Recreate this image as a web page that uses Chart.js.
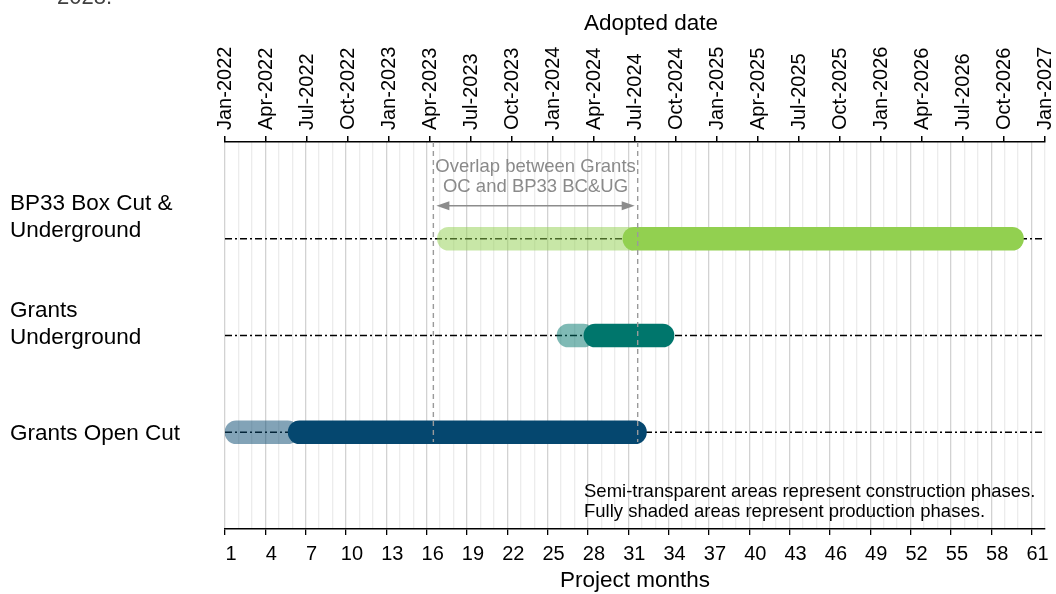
<!DOCTYPE html>
<html>
<head>
<meta charset="utf-8">
<script src="https://cdn.jsdelivr.net/npm/chart.js@4"></script>
<style>
  body { margin: 0; background: #fff; overflow: hidden; }
  #wrap { position: relative; width: 1056px; height: 594px; }
  #cut { position: absolute; left: 57px; top: -16px; font: 22px 'Liberation Sans', Arial, sans-serif; color: #404040; }
</style>
</head>
<body>
<div id="wrap">
  <div id="cut">2028.</div>
  <canvas id="gantt" width="1056" height="594"></canvas>
</div>
<script>
// project rows (top to bottom)
var rowNames = [['BP33 Box Cut &', 'Underground'], ['Grants', 'Underground'], ['Grants Open Cut']];
var rowPos = [1, 2, 3];

// phases in project months
var constructionStart = [16.8, 25.7, 1.0];
var constructionEnd = [32.0, 28.5, 6.5];
var productionStart = [30.6, 27.7, 5.7];
var productionEnd = [60.4, 34.4, 32.35];

// overlap window (project months)
var overlapMonths = [16.5, 31.7];

// axis ticks
var monthTicks = [1, 4, 7, 10, 13, 16, 19, 22, 25, 28, 31, 34, 37, 40, 43, 46, 49, 52, 55, 58, 61];
var dateLabels = ['Jan-2022', 'Apr-2022', 'Jul-2022', 'Oct-2022', 'Jan-2023', 'Apr-2023', 'Jul-2023',
  'Oct-2023', 'Jan-2024', 'Apr-2024', 'Jul-2024', 'Oct-2024', 'Jan-2025', 'Apr-2025', 'Jul-2025',
  'Oct-2025', 'Jan-2026', 'Apr-2026', 'Jul-2026', 'Oct-2026', 'Jan-2027'];

var prodColors = ['#92d050', '#00766c', '#05476f'];
var consColors = ['rgba(146,208,80,0.5)', 'rgba(0,118,108,0.5)', 'rgba(5,71,111,0.5)'];

var FONT = "'Liberation Sans', Arial, sans-serif";
Chart.defaults.font.family = FONT;
Chart.defaults.font.size = 20;
Chart.defaults.color = '#000';

var datasets = [];

// production bars (on top)
datasets.push({
    type: 'bar',
    indexAxis: 'y',
    data: rowPos.map(function (r, i) { return {y: r, x: [productionStart[i], productionEnd[i]]}; }),
    backgroundColor: prodColors,
    barThickness: 23,
    grouped: false,
    borderSkipped: false,
    borderRadius: 20,
    order: 1
});
// construction bars
datasets.push({
    type: 'bar',
    indexAxis: 'y',
    data: rowPos.map(function (r, i) { return {y: r, x: [constructionStart[i], constructionEnd[i]]}; }),
    backgroundColor: consColors,
    barThickness: 23,
    grouped: false,
    borderSkipped: false,
    borderRadius: 20,
    order: 2
});
// dash-dot row guides
rowPos.forEach(function (r) {
    datasets.push({
        type: 'line',
        data: [{x: 1, y: r}, {x: 62, y: r}],
        borderColor: '#000',
        borderWidth: 1.4,
        borderDash: [7, 3, 2, 3],
        pointRadius: 0,
        order: 3
    });
});
// overlap markers
overlapMonths.forEach(function (m) {
    datasets.push({
        type: 'line',
        data: [{x: m, y: 0}, {x: m, y: 3.1}],
        borderColor: '#9a9a9a',
        borderWidth: 1.4,
        borderDash: [5, 4],
        pointRadius: 0,
        order: 0
    });
});

var extras = {
    id: 'extras',
    afterDraw: function (chart) {
        var c = chart.ctx, xs = chart.scales.x, ys = chart.scales.y;
        c.save();
        c.textBaseline = 'middle';

        // top axis title
        c.font = '22.5px ' + FONT;
        c.fillStyle = '#000';
        c.textAlign = 'center';
        c.fillText('Adopted date', 651, 24);

        // row labels
        var shift = [-21, -11, 1.5];
        c.textAlign = 'left';
        rowNames.forEach(function (lines, i) {
            var yc = ys.getPixelForValue(rowPos[i]) + shift[i];
            lines.forEach(function (t, k) {
                c.fillText(t, 10, yc + (k - (lines.length - 1) / 2) * 27);
            });
        });

        // overlap arrow
        var x0 = xs.getPixelForValue(overlapMonths[0]) + 3;
        var x1 = xs.getPixelForValue(overlapMonths[1]) - 3;
        var ya = ys.getPixelForValue(0.66);
        c.strokeStyle = '#8c8c8c';
        c.fillStyle = '#8c8c8c';
        c.lineWidth = 1.5;
        c.beginPath();
        c.moveTo(x0 + 8, ya);
        c.lineTo(x1 - 8, ya);
        c.stroke();
        c.beginPath();
        c.moveTo(x0, ya); c.lineTo(x0 + 13, ya - 4.5); c.lineTo(x0 + 13, ya + 4.5); c.closePath();
        c.fill();
        c.beginPath();
        c.moveTo(x1, ya); c.lineTo(x1 - 13, ya - 4.5); c.lineTo(x1 - 13, ya + 4.5); c.closePath();
        c.fill();

        c.font = '18.5px ' + FONT;
        c.textAlign = 'center';
        c.fillStyle = '#8a8a8a';
        var xm = (x0 + x1) / 2;
        c.fillText('Overlap between Grants', xm, ya - 39);
        c.fillText('OC and BP33 BC&UG', xm, ya - 19);

        // note
        c.textAlign = 'left';
        c.fillStyle = '#000';
        c.fillText('Semi-transparent areas represent construction phases.', 584, 491.5);
        c.fillText('Fully shaded areas represent production phases.', 584, 511.5);
        c.restore();
    }
};

new Chart(document.getElementById('gantt'), {
    type: 'bar',
    data: { datasets: datasets },
    options: {
        responsive: false,
        animation: false,
        devicePixelRatio: 1,
        layout: { padding: { left: 225, right: 11, top: 0, bottom: 0 } },
        plugins: { legend: { display: false }, tooltip: { enabled: false } },
        scales: {
            x: {
                type: 'linear',
                position: 'bottom',
                offset: false,
                min: 1,
                max: 62,
                afterBuildTicks: function (scale) {
                    var t = [];
                    for (var m = 1; m <= 62; m++) t.push({value: m});
                    scale.ticks = t;
                },
                afterFit: function (scale) { scale.height = 65; },
                ticks: {
                    autoSkip: false,
                    maxRotation: 0,
                    padding: 7,
                    labelOffset: 6,
                    callback: function (v) { return monthTicks.indexOf(v) >= 0 ? String(v) : ''; }
                },
                grid: {
                    offset: false,
                    lineWidth: 1.3,
                    tickLength: 6,
                    color: function (ctx) {
                        return ctx.tick && monthTicks.indexOf(ctx.tick.value) >= 0 ? '#d2d2d2' : '#ececec';
                    },
                    tickColor: function (ctx) {
                        return ctx.tick && monthTicks.indexOf(ctx.tick.value) >= 0 ? '#000' : 'rgba(0,0,0,0)';
                    }
                },
                border: { color: '#000', width: 1.5 },
                title: { display: true, text: 'Project months', font: { size: 22.5 }, padding: { top: 0, bottom: 0 } }
            },
            x2: {
                type: 'linear',
                position: 'top',
                offset: false,
                min: 0,
                max: 60,
                afterBuildTicks: function (scale) {
                    scale.ticks = dateLabels.map(function (l, i) { return {value: i * 3}; });
                },
                afterFit: function (scale) { scale.height = 142; },
                ticks: {
                    autoSkip: false,
                    minRotation: 90,
                    maxRotation: 90,
                    padding: 6,
                    labelOffset: 24,
                    callback: function (v, i) { return dateLabels[i]; }
                },
                grid: { offset: false, drawOnChartArea: false, color: '#000', lineWidth: 1.5, tickLength: 6 },
                border: { color: '#000', width: 1.5 }
            },
            y: {
                type: 'linear',
                offset: false,
                min: 0,
                max: 4,
                reverse: true,
                display: false,
                grid: { offset: false }
            }
        }
    },
    plugins: [extras]
});
</script>
</body>
</html>
